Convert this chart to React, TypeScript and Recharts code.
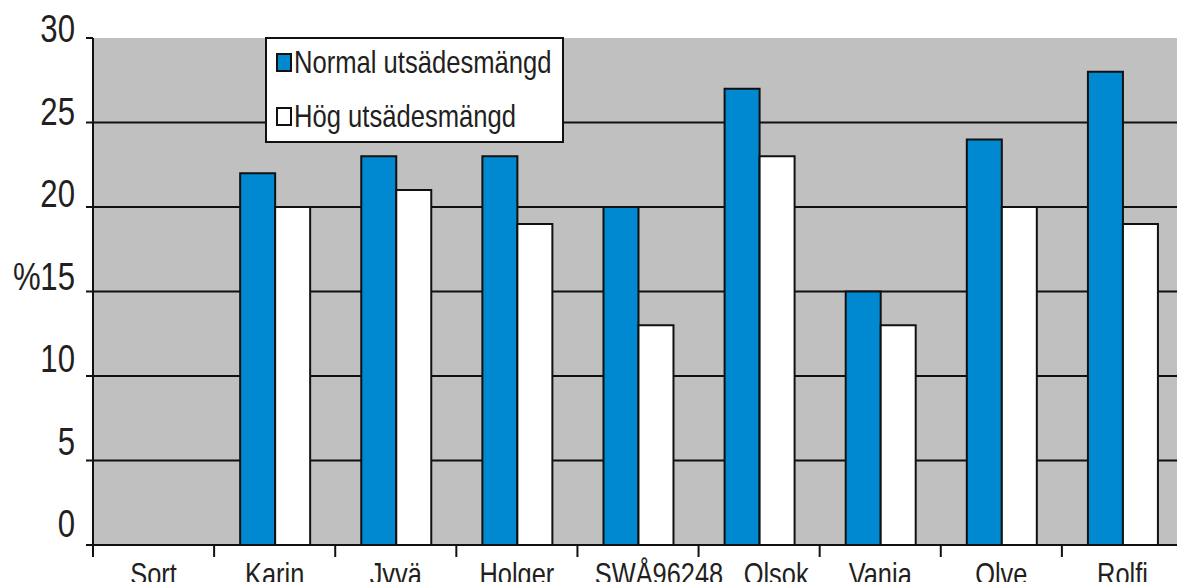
import React from 'react';
import { BarChart, Bar, XAxis, YAxis, CartesianGrid, Legend, Label } from 'recharts';

const sorts = ['Sort', 'Karin', 'Jyvä', 'Holger', 'SWÅ96248', 'Olsok', 'Vanja', 'Olve', 'Rolfi'];
const normal = [null, 22, 23, 23, 20, 27, 15, 24, 28];
const hog = [null, 20, 21, 19, 13, 23, 13, 20, 19];
const yTicks = [0, 5, 10, 15, 20, 25, 30];
const gridValues = [5, 10, 15, 20, 25];
const seriesOrder = ['normal', 'hog'];

const data = sorts.map((sort, i) => ({ sort, normal: normal[i], hog: hog[i] }));

// no Arial Narrow here, so squeeze Liberation Sans (Arial metrics) horizontally
const font = "'Liberation Sans', Arial, sans-serif";
const squeeze = 0.82;
const ink = '#231f20';
const line = '#111';

// the original has two labels pushed right off their category centre
const labelShift: Record<string, number> = { 'SWÅ96248': 21, Olsok: 17 };

// y labels sit a bit above their gridline, more so towards the bottom
const YTick = (props: any) => {
  const { x, y, payload } = props;
  const v = Number(payload.value);
  return (
    <text transform={`translate(${x} ${y - 9 - (30 - v) * 0.4}) scale(${squeeze} 1)`} textAnchor="end"
      dominantBaseline="central" fontFamily={font} fontSize={38} fill={ink}>
      {payload.value}
    </text>
  );
};

// tick marks go on the category borders, labels in the middle
const XTick = (props: any) => {
  const { x, y, payload } = props;
  const half = payload.offset ?? 60.6;
  const shift = labelShift[payload.value] ?? 0;
  return (
    <g>
      <line x1={x - half} x2={x - half} y1={y} y2={y + 12} stroke={line} strokeWidth={2} />
      <text transform={`translate(${x + shift} ${y + 40}) scale(${squeeze} 1)`} textAnchor="middle"
        fontFamily={font} fontSize={31} fill={ink}>
        {payload.value}
      </text>
    </g>
  );
};

const PercentLabel = (props: any) => {
  const vb = props.viewBox || {};
  const cy = (vb.y ?? 38) + (vb.height ?? 507) / 2;
  return (
    <text transform={`translate(13 ${cy - 15}) scale(${squeeze} 1)`} dominantBaseline="central"
      fontFamily={font} fontSize={38} fill={ink}>
      %
    </text>
  );
};

const LegendBox = (props: any) => {
  const items = (props.payload || []).slice().sort(
    (a: any, b: any) => seriesOrder.indexOf(a.dataKey) - seriesOrder.indexOf(b.dataKey));
  return (
    <div style={{ position: 'relative', width: 299, height: 106, boxSizing: 'border-box', border: `2px solid ${line}`,
      background: '#fff', fontFamily: font, fontSize: 32, color: ink }}>
      {items.map((e: any, i: number) => (
        <div key={i} style={{ position: 'absolute', left: 9, top: i === 0 ? 5 : 59, height: 36, lineHeight: '36px',
          display: 'flex', alignItems: 'center', whiteSpace: 'nowrap' }}>
          <span style={{ display: 'inline-block', width: 12, height: 15, border: `2px solid ${line}`,
            background: e.color, marginRight: 2 }} />
          <span style={{ display: 'inline-block', transform: `scaleX(0.8)`, transformOrigin: 'left center' }}>
            {e.value}
          </span>
        </div>
      ))}
    </div>
  );
};

export default function App() {
  return (
    <div style={{ position: 'absolute', left: 0, top: 0, width: 1177, height: 582, overflow: 'hidden', background: '#fff' }}>
      <BarChart width={1190} height={582} data={data} margin={{ top: 38, right: 7, bottom: 0, left: 0 }}
        barCategoryGap="21.5%" barGap={0}>
        <CartesianGrid vertical={false} horizontalValues={gridValues} stroke={line} strokeWidth={2} fill="#c0c0c0" />
        <XAxis dataKey="sort" height={37} interval={0} tickLine={false} tickSize={0} tickMargin={0}
          axisLine={{ stroke: line, strokeWidth: 2 }} tick={<XTick />} />
        <YAxis width={93} domain={[0, 30]} ticks={yTicks} interval={0} tickSize={7} tickMargin={11}
          tickLine={{ stroke: line, strokeWidth: 2 }} axisLine={{ stroke: line, strokeWidth: 2 }} tick={<YTick />}>
          <Label position="insideLeft" content={<PercentLabel />} />
        </YAxis>
        <Legend layout="vertical" align="center" verticalAlign="middle" content={<LegendBox />}
          wrapperStyle={{ left: 265, top: 37, width: 299, height: 106 }} />
        <Bar dataKey="normal" name="Normal utsädesmängd" fill="#0089d0" stroke={line} strokeWidth={2} isAnimationActive={false} />
        <Bar dataKey="hog" name="Hög utsädesmängd" fill="#ffffff" stroke={line} strokeWidth={2} isAnimationActive={false} />
      </BarChart>
    </div>
  );
}
